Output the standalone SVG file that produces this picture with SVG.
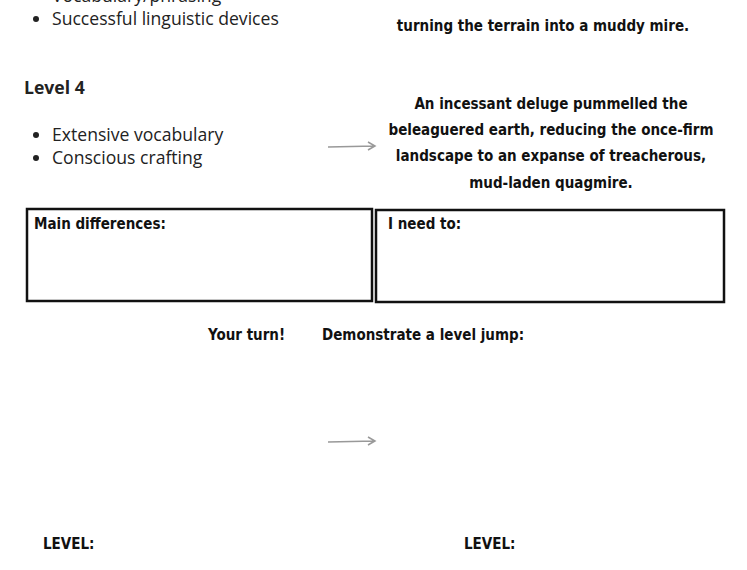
<svg xmlns="http://www.w3.org/2000/svg" width="747" height="570" viewBox="0 0 747 570">
<style>
.b{font-family:"Open Sans","Noto Sans",sans-serif;font-size:17.6px;fill:#222}
.h{font-family:"DejaVu Sans Condensed","DejaVu Sans",sans-serif;font-weight:bold;font-size:15px;fill:#111}
.box{fill:#fff;stroke:#111;stroke-width:2.5}
.arr{stroke:#999;stroke-width:1.5;fill:none}
</style>
<rect width="747" height="570" fill="#fff"/>
<g id="level3-list">
<circle cx="36" cy="-5" r="3" fill="#222"/><text class="b" x="52" y="2">Vocabulary/phrasing</text>
<circle cx="36" cy="19" r="3" fill="#222"/><text class="b" x="52" y="25">Successful linguistic devices</text>
</g>
<g id="level3-text"><text class="h" x="543" y="31" text-anchor="middle">turning the terrain into a muddy mire.</text></g>
<g id="level4-list">
<text class="b" x="24" y="94" font-weight="bold" font-size="16">Level 4</text>
<circle cx="36" cy="135" r="3" fill="#222"/><text class="b" x="52" y="141">Extensive vocabulary</text>
<circle cx="36" cy="158" r="3" fill="#222"/><text class="b" x="52" y="164">Conscious crafting</text>
</g>
<g id="level4-text" text-anchor="middle">
<text class="h" x="551" y="109">An incessant deluge pummelled the</text>
<text class="h" x="551" y="135">beleaguered earth, reducing the once-firm</text>
<text class="h" x="551" y="161">landscape to an expanse of treacherous,</text>
<text class="h" x="551" y="188">mud-laden quagmire.</text>
</g>
<g id="connectors">
<path class="arr" d="M328 147 L375 146 M368 142 L375 146 L368 150"/>
<path class="arr" d="M328 442 L375 441 M368 437 L375 441 L368 445"/>
</g>
<g id="box-differences"><rect class="box" x="27" y="209" width="345" height="92"/><text class="h" x="34" y="229">Main differences:</text></g>
<g id="box-need"><rect class="box" x="376" y="210" width="348" height="92"/><text class="h" x="388" y="229">I need to:</text></g>
<g id="your-turn"><text class="h" x="208" y="340" font-size="17">Your turn!</text><text class="h" x="322" y="340" font-size="17">Demonstrate a level jump:</text></g>
<g id="levels"><text class="h" x="43" y="549">LEVEL:</text><text class="h" x="464" y="549">LEVEL:</text></g>
</svg>
